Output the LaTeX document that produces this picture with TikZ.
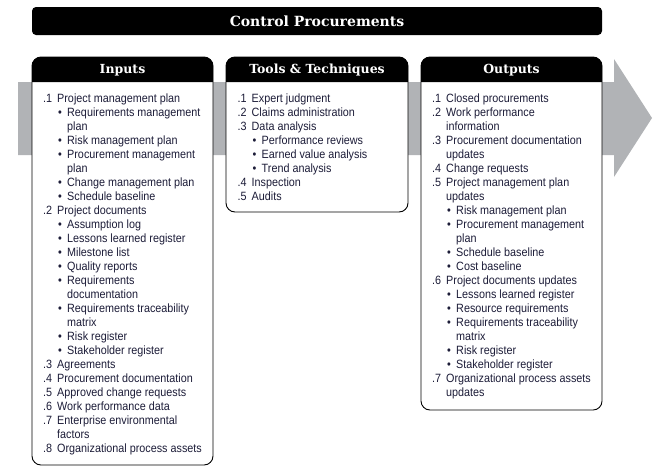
\documentclass[tikz,border=0pt]{standalone}
\usepackage{fontspec}
\setmainfont{Liberation Sans}[FakeStretch=0.9]
\newfontfamily\slabfont{DejaVu Serif}
\usepackage{xcolor}
\definecolor{flowgray}{HTML}{B1B3B6}
\definecolor{inkblack}{HTML}{000000}
\definecolor{listink}{HTML}{1C1C38}
\usetikzlibrary{positioning}
\tikzset{
  titlebar/.style={rectangle, rounded corners=4pt, fill=inkblack, text=white, align=center,
                   font=\slabfont\bfseries\fontsize{14}{16}\selectfont, inner sep=0pt},
  colframe/.style={rounded corners=9pt, draw=inkblack, line width=0.9pt, fill=white},
  colhead/.style ={fill=inkblack},
  headtxt/.style ={text=white, font=\slabfont\bfseries\fontsize{12.5}{14}\selectfont, inner sep=0pt},
  listtxt/.style ={text=listink, align=left, inner sep=0pt, anchor=north west,
                   font=\fontsize{12}{14}\selectfont},
}
% list rows: numbered item, its continuation, bullet item, bullet continuation
\newcommand{\numrow}[2]{\makebox[14pt][l]{#1}#2}
\newcommand{\numcont}[1]{\hspace*{14pt}#1}
\newcommand{\bulrow}[1]{\hspace*{15pt}\makebox[9pt][l]{\textbullet}#1}
\newcommand{\bulcont}[1]{\hspace*{24pt}#1}

\begin{document}
\begin{tikzpicture}[x=1pt, y=-1pt]
  \useasboundingbox (0,0) rectangle (655,472);
  % grey flow arrow behind the columns
  \fill[flowgray] (18,82) -- (614,82) -- (614,59) -- (652,118) -- (614,177) -- (614,155) -- (18,155) -- cycle;

  \node[titlebar, minimum width=570pt, minimum height=28pt] (title) at (317,21) {Control Procurements};

  % Inputs
  \draw[colframe] (32,57) rectangle (213,465);
  \fill[colhead] (32,82) [rounded corners=9pt] -- (32,57) -- (213,57) [sharp corners] -- (213,82) -- cycle;
  \node[headtxt] (inhead) at (122.5,70) {Inputs};
  \node[listtxt] (inlist) at (43,93.5) {%
    \numrow{.1}{Project management plan}\\
    \bulrow{Requirements management}\\
    \bulcont{plan}\\
    \bulrow{Risk management plan}\\
    \bulrow{Procurement management}\\
    \bulcont{plan}\\
    \bulrow{Change management plan}\\
    \bulrow{Schedule baseline}\\
    \numrow{.2}{Project documents}\\
    \bulrow{Assumption log}\\
    \bulrow{Lessons learned register}\\
    \bulrow{Milestone list}\\
    \bulrow{Quality reports}\\
    \bulrow{Requirements}\\
    \bulcont{documentation}\\
    \bulrow{Requirements traceability}\\
    \bulcont{matrix}\\
    \bulrow{Risk register}\\
    \bulrow{Stakeholder register}\\
    \numrow{.3}{Agreements}\\
    \numrow{.4}{Procurement documentation}\\
    \numrow{.5}{Approved change requests}\\
    \numrow{.6}{Work performance data}\\
    \numrow{.7}{Enterprise environmental}\\
    \numcont{factors}\\
    \numrow{.8}{Organizational process assets}};

  % Tools & Techniques
  \draw[colframe] (226,57) rectangle (408,212);
  \fill[colhead] (226,82) [rounded corners=9pt] -- (226,57) -- (408,57) [sharp corners] -- (408,82) -- cycle;
  \node[headtxt] (tthead) at (317,70) {Tools \& Techniques};
  \node[listtxt] (ttlist) at (237.5,93.5) {%
    \numrow{.1}{Expert judgment}\\
    \numrow{.2}{Claims administration}\\
    \numrow{.3}{Data analysis}\\
    \bulrow{Performance reviews}\\
    \bulrow{Earned value analysis}\\
    \bulrow{Trend analysis}\\
    \numrow{.4}{Inspection}\\
    \numrow{.5}{Audits}};

  % Outputs
  \draw[colframe] (421,57) rectangle (602,410);
  \fill[colhead] (421,82) [rounded corners=9pt] -- (421,57) -- (602,57) [sharp corners] -- (602,82) -- cycle;
  \node[headtxt] (outhead) at (511.5,70) {Outputs};
  \node[listtxt] (outlist) at (432,93.5) {%
    \numrow{.1}{Closed procurements}\\
    \numrow{.2}{Work performance}\\
    \numcont{information}\\
    \numrow{.3}{Procurement documentation}\\
    \numcont{updates}\\
    \numrow{.4}{Change requests}\\
    \numrow{.5}{Project management plan}\\
    \numcont{updates}\\
    \bulrow{Risk management plan}\\
    \bulrow{Procurement management}\\
    \bulcont{plan}\\
    \bulrow{Schedule baseline}\\
    \bulrow{Cost baseline}\\
    \numrow{.6}{Project documents updates}\\
    \bulrow{Lessons learned register}\\
    \bulrow{Resource requirements}\\
    \bulrow{Requirements traceability}\\
    \bulcont{matrix}\\
    \bulrow{Risk register}\\
    \bulrow{Stakeholder register}\\
    \numrow{.7}{Organizational process assets}\\
    \numcont{updates}};
\end{tikzpicture}
\end{document}
